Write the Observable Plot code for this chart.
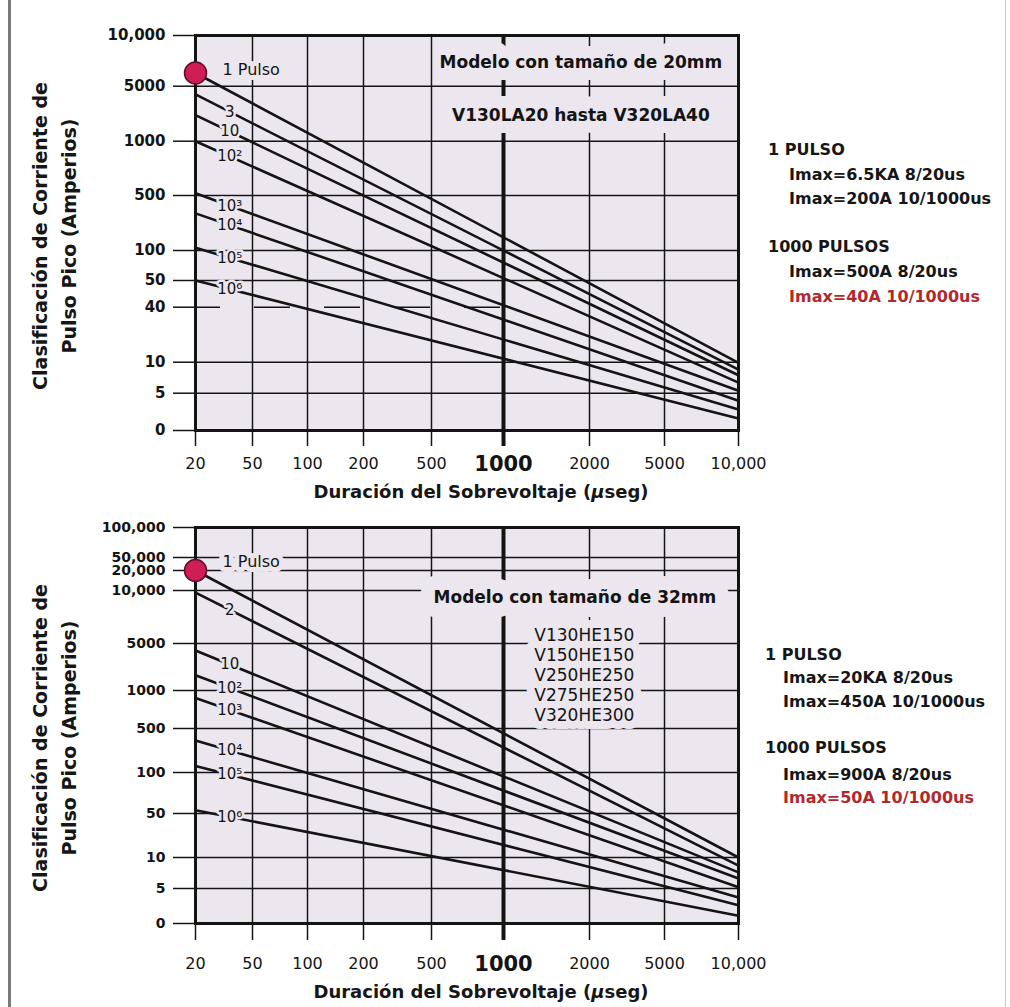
<!DOCTYPE html>
<html lang="es"><head><meta charset="utf-8">
<script src="https://cdn.jsdelivr.net/npm/d3@7"></script>
<script src="https://cdn.jsdelivr.net/npm/@observablehq/plot@0.6"></script>
<style>
html,body{margin:0;padding:0;background:#fff;}
#page{position:relative;width:1010px;height:1007px;overflow:hidden;font-family:"DejaVu Sans",sans-serif;color:#161616;}
#page svg{position:absolute;left:0;}
#page svg [aria-label="y-axis tick label"]{font-weight:bold;}
.note{position:absolute;white-space:nowrap;font-weight:bold;font-size:16px;line-height:20px;}
.red{color:#b3282d;}
.xtitle{position:absolute;left:0;width:962px;text-align:center;font-weight:bold;font-size:18px;line-height:22px;white-space:nowrap;}
.ytitle{position:absolute;white-space:nowrap;text-align:center;font-weight:bold;font-size:19px;line-height:29px;transform:translate(-50%,-50%) rotate(-90deg);}
.edge-left{position:absolute;left:8px;top:0;width:3px;height:1007px;background:#7a7a7a;}
.edge-right{position:absolute;left:1005px;top:0;width:1px;height:1007px;background:#c8c8c8;}
</style></head>
<body><div id="page"><div class="edge-left"></div><div class="edge-right"></div></div>
<script>
// ---------- data ----------
const durations = [20, 50, 100, 200, 500, 1000, 2000, 5000, 10000];
const durationLabels = ["20", "50", "100", "200", "500", "1000", "2000", "5000", "10,000"];

const topCurrentTicks = [0, 5, 10, 40, 50, 100, 500, 1000, 5000, 10000];
const topCurrentLabels = ["0", "5", "10", "40", "50", "100", "500", "1000", "5000", "10,000"];
const bottomCurrentTicks = [0, 5, 10, 50, 100, 500, 1000, 5000, 10000, 20000, 50000, 100000];
const bottomCurrentLabels = ["0", "5", "10", "50", "100", "500", "1000", "5000", "10,000", "20,000", "50,000", "100,000"];

const topPulses = ["1", "3", "10", "10²", "10³", "10⁴", "10⁵", "10⁶"];
const topStart = [6300, 4400, 2900, 1000, 520, 370, 120, 50];   // A at 20 µs
const topEnd = [9.9, 8.8, 7.9, 6.7, 5.4, 4.0, 2.8, 1.6];        // A at 10,000 µs

const bottomPulses = ["1", "2", "10", "10²", "10³", "10⁴", "10⁵", "10⁶"];
const bottomStart = [20000, 9800, 4400, 2300, 900, 390, 160, 54];
const bottomEnd = [10, 8.7, 7.6, 6.6, 5.2, 3.7, 2.6, 1.1];

const topTitles = ["Modelo con tamaño de 20mm", "V130LA20 hasta V320LA40"];
const bottomTitle = "Modelo con tamaño de 32mm";
const bottomModels = ["V130HE150", "V150HE150", "V250HE250", "V275HE250", "V320HE300"];

const topNoteHeads = ["1 PULSO", "1000 PULSOS"];
const topNoteLines = [["Imax=6.5KA 8/20us", "Imax=200A 10/1000us"], ["Imax=500A 8/20us", "Imax=40A 10/1000us"]];
const bottomNoteHeads = ["1 PULSO", "1000 PULSOS"];
const bottomNoteLines = [["Imax=20KA 8/20us", "Imax=450A 10/1000us"], ["Imax=900A 8/20us", "Imax=50A 10/1000us"]];

const yTitleLines = ["Clasificación de Corriente de", "Pulso Pico (Amperios)"];
const xTitle = "Duración del Sobrevoltaje (<i>µ</i>seg)";

// ---------- drawing ----------
const page = document.getElementById("page");
const BG = "#ece7ee";
const INK = "#141414";
const W = 1010;

function drawPanel(cfg) {
  const xOpt = {type: "linear", domain: durations, range: cfg.xRange};
  const yOpt = {type: "linear", domain: cfg.yTicks, range: cfg.yRange.map(v => v - cfg.top)};
  const xs = Plot.scale({x: xOpt});
  const ys = Plot.scale({y: yOpt});
  const first = durations[0], last = durations[durations.length - 1];
  const lineRows = cfg.pulses.flatMap((p, i) => [
    {pulse: p, d: first, a: cfg.start[i]},
    {pulse: p, d: last, a: cfg.end[i]}
  ]);
  const x0 = xs.apply(first), x1 = xs.apply(last);
  const labelRows = cfg.pulses.slice(1).map((p, j) => {
    const i = j + 1;
    const y0 = ys.apply(cfg.start[i]), y1 = ys.apply(cfg.end[i]);
    const t = (xs.apply(cfg.labelAt) - x0) / (x1 - x0);
    return {pulse: p, d: cfg.labelAt, a: ys.invert(y0 + t * (y1 - y0))};
  });
  const pointRow = [{pulse: cfg.pulses[0] + " Pulso", d: first, a: cfg.start[0]}];
  const gridH = cfg.yTicks.filter(v => !cfg.dashed.includes(v));
  const inner = durations.slice(1, -1);
  const under = inner.filter(d => cfg.gridUnder.includes(d));
  const over = inner.filter(d => !cfg.gridUnder.includes(d));
  const fmtX = d => durationLabels[durations.indexOf(d)];
  const fmtY = d => cfg.yLabels[cfg.yTicks.indexOf(d)];

  const titleMarks = [];
  const titleText = [];
  for (const t of cfg.texts) {
    const base = {x: "d", y: "a", text: "text", fontSize: t.size, fontWeight: t.weight, lineHeight: t.lineHeight || 1};
    titleMarks.push(Plot.text([t], {...base, fill: BG, stroke: BG, strokeWidth: t.mask, strokeLinejoin: "round"}));
    titleText.push(Plot.text([t], {...base, fill: INK}));
  }

  const svg = Plot.plot({
    width: W,
    height: cfg.height,
    marginLeft: cfg.xRange[0],
    marginRight: W - cfg.xRange[cfg.xRange.length - 1],
    marginTop: cfg.yRange[cfg.yRange.length - 1] - cfg.top,
    marginBottom: cfg.top + cfg.height - cfg.yRange[0],
    x: xOpt,
    y: yOpt,
    style: {fontFamily: "DejaVu Sans", fontSize: "16px", background: "transparent", overflow: "visible", color: INK},
    marks: [
      Plot.frame({fill: BG}),
      Plot.ruleY(gridH, {stroke: INK, strokeWidth: 1.5}),
      Plot.ruleY(cfg.dashed, {x1: first, x2: 1000, stroke: INK, strokeWidth: 1.5, strokeDasharray: "36,34", strokeDashoffset: 11}),
      Plot.ruleX(under, {stroke: INK, strokeWidth: d => d === 1000 ? 4 : 1.5}),
      ...titleMarks,
      Plot.ruleX(over, {stroke: INK, strokeWidth: d => d === 1000 ? 4 : 1.5}),
      Plot.line(lineRows, {x: "d", y: "a", z: "pulse", stroke: INK, strokeWidth: 2.6}),
      Plot.text(labelRows, {x: "d", y: "a", text: "pulse", fontSize: 15, fill: INK, stroke: BG, strokeWidth: 5, paintOrder: "stroke"}),
      Plot.text(pointRow, {x: "d", y: "a", text: "pulse", textAnchor: "start", dx: 27, dy: cfg.pointDy, fontSize: 16, fill: INK, stroke: BG, strokeWidth: 10, strokeLinejoin: "round", paintOrder: "stroke"}),
      ...titleText,
      Plot.frame({stroke: INK, strokeWidth: 3}),
      Plot.axisY({ticks: cfg.yTicks, tickFormat: fmtY, tickSize: 22, tickPadding: 8, fontSize: cfg.yFont, fontWeight: "bold", stroke: INK, strokeWidth: 1.5, label: null}),
      Plot.axisX({ticks: durations.filter(d => d !== 1000), tickFormat: fmtX, tickSize: cfg.xTickSize, tickPadding: cfg.xTickPad, fontSize: 16, stroke: INK, strokeWidth: 1.5, label: null}),
      Plot.axisX({ticks: [1000], tickFormat: fmtX, tickSize: cfg.xTickSize, tickPadding: cfg.xTickPad - 1, fontSize: 21, fontWeight: "bold", stroke: INK, strokeWidth: 4, label: null}),
      Plot.dot(pointRow, {x: "d", y: "a", r: 11, fill: "#cf1d56", stroke: "#5c0d29", strokeWidth: 1.5})
    ]
  });
  svg.style.top = cfg.top + "px";
  page.appendChild(svg);
}

const xRange = [195, 252, 307, 363, 431, 503, 589, 664, 738];

drawPanel({
  top: 0, height: 500, xRange,
  yTicks: topCurrentTicks, yLabels: topCurrentLabels, yFont: 15,
  yRange: [430, 392.7, 361.7, 306.7, 280, 250, 195, 140.7, 85.7, 35],
  pulses: topPulses, start: topStart, end: topEnd,
  labelAt: 38, pointDy: -3, dashed: [40],
  gridUnder: [1000, 2000, 5000],
  xTickSize: 16, xTickPad: 11,
  texts: [
    {text: topTitles[0], d: 1900, a: 7300, size: 17, weight: "bold", mask: 24},
    {text: topTitles[1], d: 1900, a: 2900, size: 17, weight: "bold", mask: 24}
  ]
});

drawPanel({
  top: 500, height: 507, xRange,
  yTicks: bottomCurrentTicks, yLabels: bottomCurrentLabels, yFont: 14,
  yRange: [923, 888, 857, 813, 772, 728, 690, 643, 590, 570, 557, 527],
  pulses: bottomPulses, start: bottomStart, end: bottomEnd,
  labelAt: 38, pointDy: -9, dashed: [],
  gridUnder: [50, 100, 200, 500, 1000, 2000, 5000],
  xTickSize: 17, xTickPad: 17,
  texts: [
    {text: bottomTitle, d: 1830, a: 9340, size: 17, weight: "bold", mask: 28},
    {text: bottomModels.join("\n"), d: 1940, a: 2362, size: 17, weight: "normal", mask: 16, lineHeight: 1.18}
  ]
});

// ---------- HTML annotations ----------
function addDiv(cls, html, left, top) {
  const el = document.createElement("div");
  el.className = cls;
  el.innerHTML = html;
  el.style.left = left + "px";
  el.style.top = top + "px";
  page.appendChild(el);
  return el;
}
function notes(heads, lines, xHead, xLine, centers) {
  let k = 0;
  heads.forEach((h, i) => {
    addDiv("note", h, xHead, centers[k++] - 10);
    lines[i].forEach((l, j) => {
      const red = i === heads.length - 1 && j === lines[i].length - 1;
      addDiv("note" + (red ? " red" : ""), l, xLine, centers[k++] - 10);
    });
  });
}
notes(topNoteHeads, topNoteLines, 768, 789, [150, 175, 199, 247, 272, 297]);
notes(bottomNoteHeads, bottomNoteLines, 765, 783, [655, 678, 702, 748, 775, 798]);

addDiv("xtitle", xTitle, 0, 481);
addDiv("xtitle", xTitle, 0, 981);
addDiv("ytitle", yTitleLines.join("<br>"), 55, 236);
addDiv("ytitle", yTitleLines.join("<br>"), 55, 738);
</script></body></html>
